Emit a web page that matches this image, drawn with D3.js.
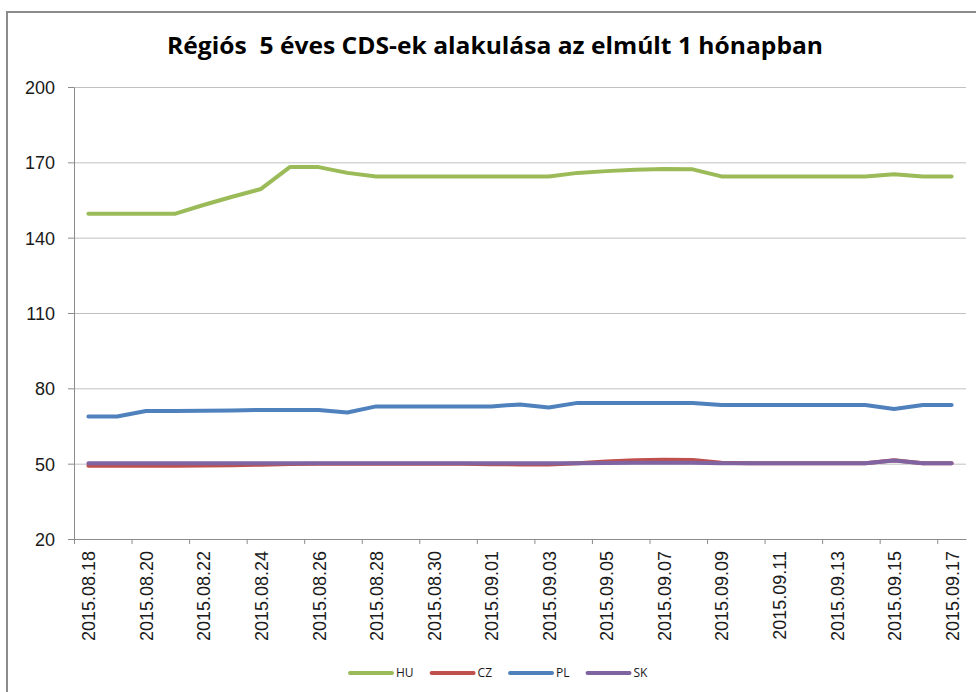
<!DOCTYPE html>
<html>
<head>
<meta charset="utf-8">
<script src="https://cdn.jsdelivr.net/npm/d3@7"></script>
<style>
  body { margin: 0; background: #fff; }
  svg { display: block; font-family: "Open Sans", sans-serif; }
  .grid line { stroke: #c0c0c0; stroke-width: 1; }
  .axis path, .axis line { stroke: #8c8c8c; stroke-width: 1; }
  .axis text { fill: #1a1a1a; }
  .line { fill: none; stroke-width: 4; stroke-linejoin: round; stroke-linecap: round; }
</style>
</head>
<body>
<svg width="976" height="692"></svg>
<script>
var title = "Régiós  5 éves CDS-ek alakulása az elmúlt 1 hónapban";

var dates = [
  "2015.08.18", "2015.08.19", "2015.08.20", "2015.08.21", "2015.08.22", "2015.08.23",
  "2015.08.24", "2015.08.25", "2015.08.26", "2015.08.27", "2015.08.28", "2015.08.29",
  "2015.08.30", "2015.08.31", "2015.09.01", "2015.09.02", "2015.09.03", "2015.09.04",
  "2015.09.05", "2015.09.06", "2015.09.07", "2015.09.08", "2015.09.09", "2015.09.10",
  "2015.09.11", "2015.09.12", "2015.09.13", "2015.09.14", "2015.09.15", "2015.09.16",
  "2015.09.17"
];

var yTicks = [20, 50, 80, 110, 140, 170, 200];

var seriesNames = ["HU", "CZ", "PL", "SK"];
var seriesColors = ["#9bbb59", "#c0504d", "#4f81bd", "#8064a2"];

var hu = [149.5, 149.5, 149.5, 149.5, 153, 156.3, 159.4, 168.1, 168.1, 165.8, 164.4,
          164.4, 164.4, 164.4, 164.4, 164.4, 164.4, 165.8, 166.5, 167, 167.3, 167.2,
          164.4, 164.4, 164.4, 164.4, 164.4, 164.4, 165.3, 164.4, 164.4];
var cz = [49.2, 49.2, 49.2, 49.2, 49.3, 49.4, 49.6, 49.9, 50, 50, 50,
          50, 50, 50, 49.8, 49.7, 49.7, 50.2, 50.9, 51.4, 51.6, 51.5,
          50.4, 50.2, 50.2, 50.2, 50.2, 50.2, 51.4, 50.2, 50.2];
var pl = [68.8, 68.8, 71.0, 71.0, 71.1, 71.2, 71.4, 71.4, 71.4, 70.4, 72.8,
          72.8, 72.8, 72.8, 72.8, 73.6, 72.4, 74.2, 74.2, 74.2, 74.2, 74.2,
          73.4, 73.4, 73.4, 73.4, 73.4, 73.4, 71.8, 73.4, 73.4];
var sk = [50.2, 50.2, 50.2, 50.2, 50.2, 50.2, 50.2, 50.2, 50.2, 50.2, 50.2,
          50.2, 50.2, 50.2, 50.2, 50.2, 50.2, 50.2, 50.3, 50.4, 50.4, 50.4,
          50.2, 50.2, 50.2, 50.2, 50.2, 50.2, 51.3, 50.2, 50.2];

var svg = d3.select("svg"),
    plot = {left: 74, right: 966, top: 87, bottom: 539};

// chart frame (cut off at right and bottom like the reference)
svg.append("rect")
    .attr("x", 7).attr("y", 12)
    .attr("width", 1000).attr("height", 700)
    .attr("fill", "none")
    .attr("stroke", "#8c8c8c")
    .attr("stroke-width", 2);

svg.append("text")
    .attr("x", 495)
    .attr("y", 54)
    .attr("text-anchor", "middle")
    .attr("textLength", 656)
    .attr("lengthAdjust", "spacingAndGlyphs")
    .style("white-space", "pre")
    .style("font-size", "23px")
    .style("font-weight", "bold")
    .style("fill", "#000")
    .text(title);

var x = d3.scaleLinear().domain([0, dates.length]).range([plot.left, plot.right]),
    y = d3.scaleLinear().domain([20, 200]).range([plot.bottom, plot.top]);

var evenIdx = d3.range(0, dates.length, 2);

svg.append("g")
    .attr("class", "grid")
    .attr("transform", "translate(" + plot.left + ",0)")
    .call(d3.axisLeft(y).tickValues(yTicks.slice(1)).tickSize(-(plot.right - plot.left)).tickFormat(""))
    .call(function(g) { g.select(".domain").remove(); });

svg.append("g")
    .attr("class", "axis y")
    .attr("transform", "translate(" + plot.left + ",0)")
    .call(d3.axisLeft(y).tickValues(yTicks).tickSize(6).tickPadding(13).tickSizeOuter(0))
    .call(function(g) { g.selectAll("text").style("font-size", "18px").attr("dy", "0.36em"); });

// tick marks sit on category boundaries, every second category
svg.append("g")
    .attr("class", "axis x")
    .attr("transform", "translate(0," + plot.bottom + ")")
    .call(d3.axisBottom(x).tickValues(evenIdx).tickSize(5).tickSizeOuter(0).tickFormat(""));

// labels sit in the middle of the category
svg.append("g")
    .attr("class", "axis xl")
    .attr("transform", "translate(0," + plot.bottom + ")")
    .call(d3.axisBottom(x).tickValues(evenIdx.map(function(i) { return i + 0.5; }))
        .tickSize(0).tickFormat(function(v) { return dates[v - 0.5]; }))
    .call(function(g) {
        g.select(".domain").remove();
        g.selectAll("text")
            .style("font-size", "18px")
            .attr("text-anchor", "end")
            .attr("transform", "rotate(-90)")
            .attr("x", -12)
            .attr("y", 0)
            .attr("dy", "0.36em");
    });

var line = d3.line()
    .x(function(d, i) { return x(i + 0.5); })
    .y(function(d) { return y(d); });

var series = [hu, cz, pl, sk];

svg.append("g").selectAll("path")
    .data(series)
    .enter().append("path")
    .attr("class", "line")
    .attr("d", function(d) { return line(d); })
    .style("stroke", function(d, i) { return seriesColors[i]; });

// legend
var legend = svg.append("g").attr("transform", "translate(350,673)");
var cursor = 0;
seriesNames.forEach(function(name, i) {
    legend.append("line")
        .attr("x1", cursor).attr("x2", cursor + 42)
        .attr("y1", 0).attr("y2", 0)
        .attr("stroke", seriesColors[i])
        .attr("stroke-width", 4)
        .attr("stroke-linecap", "round");
    var t = legend.append("text")
        .attr("x", cursor + 46)
        .attr("dy", "0.36em")
        .style("font-size", "12px")
        .style("fill", "#1a1a1a")
        .text(name);
    cursor += 46 + t.node().getComputedTextLength() + 18;
});
</script>
</body>
</html>
